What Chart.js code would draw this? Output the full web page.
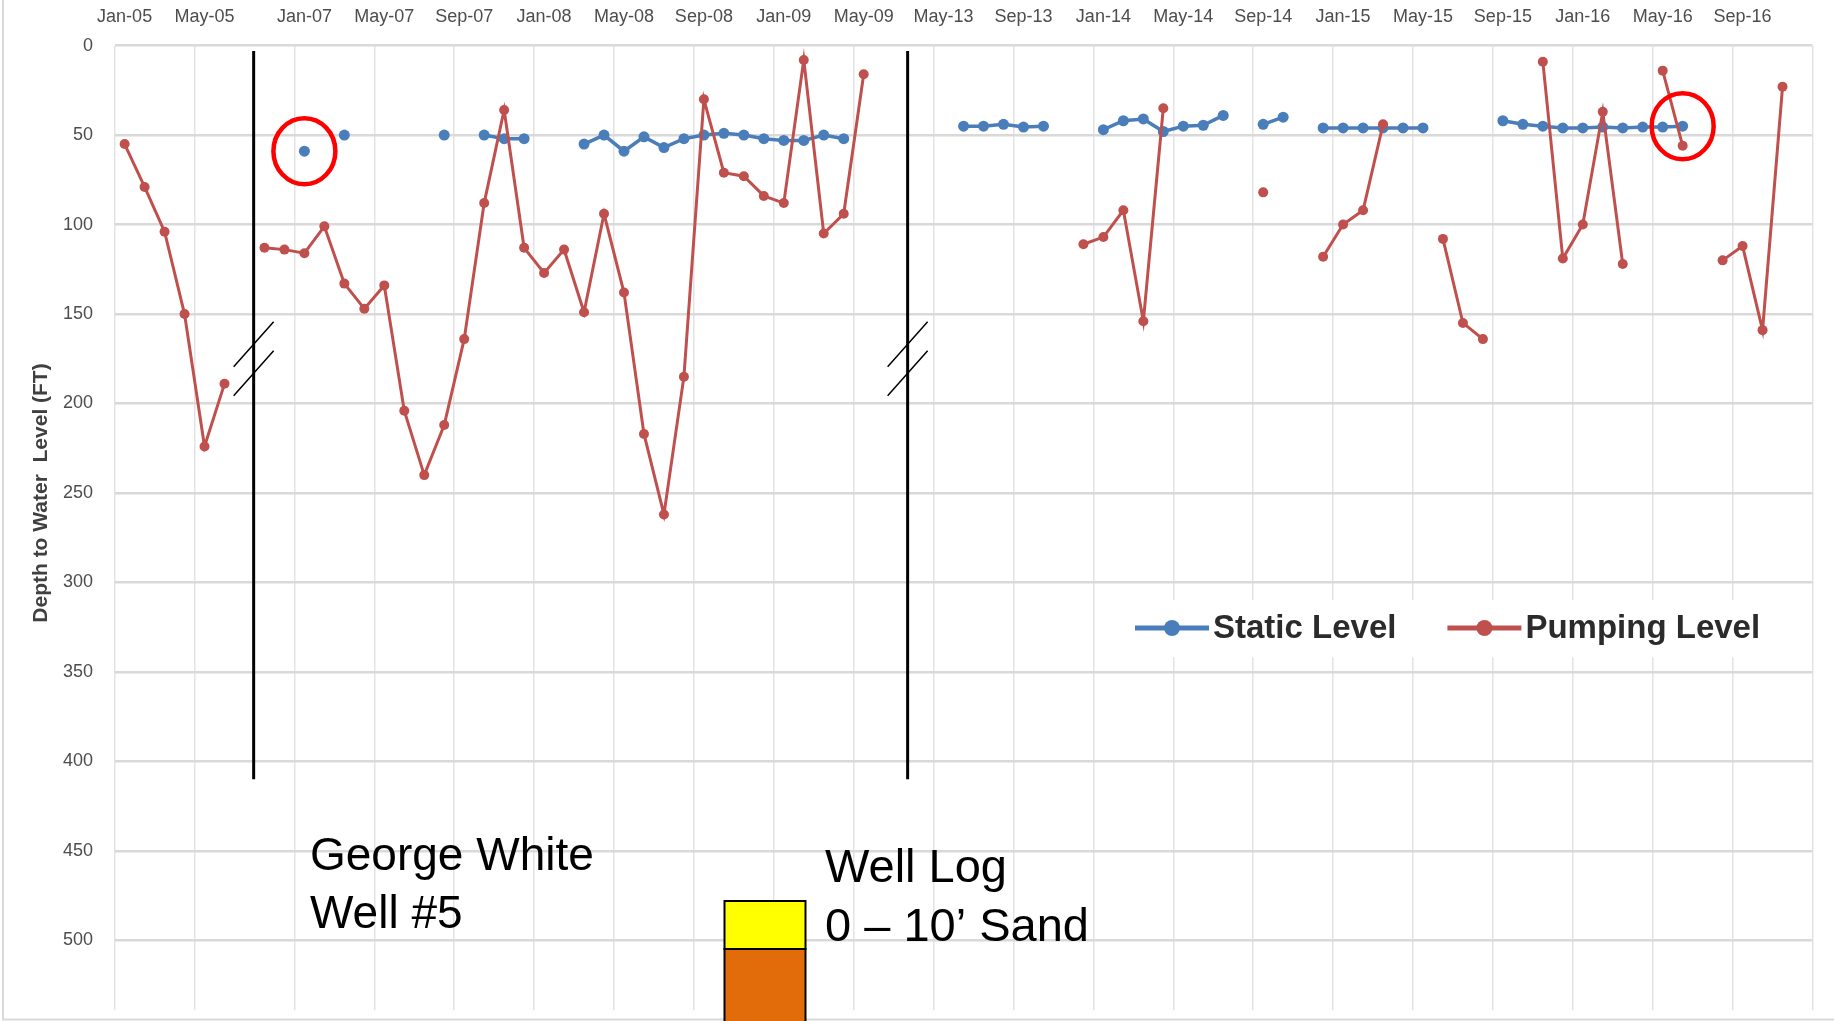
<!DOCTYPE html>
<html>
<head>
<meta charset="utf-8">
<title>George White Well #5</title>
<script src="https://cdn.jsdelivr.net/npm/chart.js@4.4.1/dist/chart.umd.min.js"></script>
<style>
  html, body { margin: 0; padding: 0; background: #fff; }
  canvas { display: block; }
</style>
</head>
<body>
<canvas id="myChart" width="1834" height="1021"></canvas>
<script>
// one category per month, '' = cut in the time axis
var months = [
  'Jan-05','Feb-05','Mar-05','Apr-05','May-05','Jun-05','',
  'Nov-06','Dec-06',
  'Jan-07','Feb-07','Mar-07','Apr-07','May-07','Jun-07','Jul-07','Aug-07','Sep-07','Oct-07','Nov-07','Dec-07',
  'Jan-08','Feb-08','Mar-08','Apr-08','May-08','Jun-08','Jul-08','Aug-08','Sep-08','Oct-08','Nov-08','Dec-08',
  'Jan-09','Feb-09','Mar-09','Apr-09','May-09','Jun-09','',
  'Apr-13','May-13','Jun-13','Jul-13','Aug-13','Sep-13','Oct-13','Nov-13','Dec-13',
  'Jan-14','Feb-14','Mar-14','Apr-14','May-14','Jun-14','Jul-14','Aug-14','Sep-14','Oct-14','Nov-14','Dec-14',
  'Jan-15','Feb-15','Mar-15','Apr-15','May-15','Jun-15','Jul-15','Aug-15','Sep-15','Oct-15','Nov-15','Dec-15',
  'Jan-16','Feb-16','Mar-16','Apr-16','May-16','Jun-16','Jul-16','Aug-16','Sep-16','Oct-16','Nov-16','Dec-16'
];

var shownTicks = ['Jan-05','May-05','Jan-07','May-07','Sep-07','Jan-08','May-08','Sep-08','Jan-09','May-09',
  'May-13','Sep-13','Jan-14','May-14','Sep-14','Jan-15','May-15','Sep-15','Jan-16','May-16','Sep-16'];

var seriesNames = ['Static Level', 'Pumping Level'];
var yTitle = 'Depth to Water  Level (FT)';

var staticLevel = [
  null, null, null, null, null, null, null,
  null, null,
  59, null, 50, null, null, null, null, 50, null, 50, 52, 52,
  null, null, 55, 50, 59, 51, 57, 52, 50, 49, 50, 52,
  53, 53, 50, 52, null, null, null,
  null, null, 45, 45, 44, 45.5, 45, null, null,
  47, 42, 41, 48, 45, 44.5, 39, null, 44, 40, null, 46,
  46, 46, 46, 46, 46, null, null, null, 42, 44, 45, 46,
  46, 45.5, 46, 45.5, 45.5, 45, null, null, null, null, null, null
];

var pumpingLevel = [
  55, 79, 104, 150, 224, 189, null,
  113, 114,
  116, 101, 133, 147, 134, 204, 240, 212, 164, 88, 36, 113,
  127, 114, 149, 94, 138, 217, 262, 185, 30, 71, 73, 84,
  88, 8, 105, 94, 16, null, null,
  null, null, null, null, null, null, null, null, 111,
  107, 92, 154, 35, null, null, null, null, 82, null, null, 118,
  100, 92, 44, null, null, 108, 155, 164, null, null, 9, 119,
  100, 37, 122, null, 14, 56, null, 120, 112, 159, 23, null
];

// static readings that are circled in red
var circled = ['Jan-07', 'Jun-16'];

var wellName = ['George White', 'Well #5'];
var wellLog = ['Well Log', '0 \u2013 10\u2019 Sand'];

var blue = '#4a7ebb';
var red = '#c0504d';
var gridCol = '#e3e3e3';
var breakShift = [0.46, 0.2]; // where the cut bar sits inside each gap slot

Chart.defaults.font.family = "'Liberation Sans', Arial, sans-serif";

var overlay = {
  id: 'overlay',
  beforeDraw: function (chart) {
    var c = chart.ctx;
    c.save();
    c.strokeStyle = '#d9d9d9';
    c.lineWidth = 2;
    c.beginPath();
    c.moveTo(3, 0);
    c.lineTo(3, chart.height - 1.5);
    c.lineTo(chart.width, chart.height - 1.5);
    c.stroke();
    c.restore();
  },
  afterDatasetsDraw: function (chart) {
    var c = chart.ctx;
    var x = chart.scales.x, y = chart.scales.y;
    var w = x.getPixelForValue(1) - x.getPixelForValue(0);
    c.save();

    // y axis title, centred on the 0-500 range
    c.save();
    c.translate(41.5, y.getPixelForValue(250));
    c.rotate(-Math.PI / 2);
    c.font = "bold 21px 'Liberation Sans', Arial, sans-serif";
    c.fillStyle = '#404040';
    c.textAlign = 'center';
    c.textBaseline = 'middle';
    c.fillText(yTitle, 0, 0);
    c.restore();

    // axis breaks: black bar plus "//"
    var k = 0;
    months.forEach(function (m, i) {
      if (m !== '') return;
      var bx = x.getPixelForValue(i) + breakShift[k++] * w;
      c.strokeStyle = '#000';
      c.lineWidth = 3;
      c.beginPath();
      c.moveTo(bx, y.getPixelForValue(3));
      c.lineTo(bx, y.getPixelForValue(410));
      c.stroke();
      var my = y.getPixelForValue(175);
      c.lineWidth = 1.5;
      c.beginPath();
      c.moveTo(bx - 20, my + 8); c.lineTo(bx + 20, my - 37);
      c.moveTo(bx - 20, my + 37); c.lineTo(bx + 20, my - 8);
      c.stroke();
    });

    // red circles
    c.strokeStyle = '#ff0000';
    c.lineWidth = 4.5;
    circled.forEach(function (m) {
      var i = months.indexOf(m);
      c.beginPath();
      c.ellipse(x.getPixelForValue(i), y.getPixelForValue(staticLevel[i]), 31, 33, 0, 0, Math.PI * 2);
      c.stroke();
    });

    // legend
    c.fillStyle = '#fff';
    c.fillRect(1123, 600, 661, 57);
    var lx = 1135, ly = 628;
    c.font = "bold 33px 'Liberation Sans', Arial, sans-serif";
    c.textBaseline = 'middle';
    chart.data.datasets.forEach(function (ds) {
      c.strokeStyle = ds.borderColor;
      c.lineWidth = 5;
      c.beginPath();
      c.moveTo(lx, ly); c.lineTo(lx + 74, ly);
      c.stroke();
      c.fillStyle = ds.borderColor;
      c.beginPath();
      c.arc(lx + 37, ly, 8, 0, Math.PI * 2);
      c.fill();
      c.fillStyle = '#2b2b2b';
      c.fillText(ds.label, lx + 78, ly + 1);
      lx += 78 + c.measureText(ds.label).width + 51;
    });

    // slide text
    c.fillStyle = '#000';
    c.textBaseline = 'alphabetic';
    c.font = "46px 'Liberation Sans', Arial, sans-serif";
    c.fillText(wellName[0], 310, 870);
    c.fillText(wellName[1], 310, 928);
    c.font = "47px 'Liberation Sans', Arial, sans-serif";
    c.fillText(wellLog[0], 825, 882);
    c.fillText(wellLog[1], 825, 941);

    // well log column
    c.lineWidth = 2;
    c.strokeStyle = '#000';
    c.fillStyle = '#ffff00';
    c.fillRect(724.5, 901, 81, 48);
    c.strokeRect(724.5, 901, 81, 48);
    c.fillStyle = '#e36c0a';
    c.fillRect(724.5, 949, 81, 80);
    c.strokeRect(724.5, 949, 81, 80);

    c.restore();
  }
};

var config = {
  type: 'line',
  data: {
    labels: months,
    datasets: [{
      label: seriesNames[0],
      data: staticLevel,
      borderColor: blue,
      backgroundColor: blue,
      borderWidth: 3.5,
      pointRadius: 5.5,
      pointBorderWidth: 0,
      tension: 0,
      order: 1
    }, {
      label: seriesNames[1],
      data: pumpingLevel,
      borderColor: red,
      backgroundColor: red,
      borderWidth: 3,
      pointRadius: 5,
      pointBorderWidth: 0,
      tension: 0,
      order: 0
    }]
  },
  options: {
    responsive: false,
    animation: false,
    devicePixelRatio: 1,
    layout: { padding: { left: 63, top: 6, right: 21.5, bottom: 2 } },
    plugins: {
      legend: { display: false },
      tooltip: { enabled: false }
    },
    scales: {
      x: {
        position: 'top',
        offset: true,
        border: { display: false },
        grid: {
          offset: true,
          lineWidth: 1.5,
          tickLength: 18,
          tickColor: 'rgba(0,0,0,0)',
          color: function (ctx) {
            if (ctx.index === undefined) return gridCol;
            return shownTicks.indexOf(months[ctx.index]) >= 0 ? gridCol : 'rgba(0,0,0,0)';
          }
        },
        ticks: {
          autoSkip: false,
          maxRotation: 0,
          minRotation: 0,
          padding: 0,
          color: '#4d4d4d',
          font: { size: 18 },
          callback: function (value, index) {
            return shownTicks.indexOf(months[index]) >= 0 ? months[index] : '';
          }
        }
      },
      y: {
        reverse: true,
        min: 0,
        max: 539,
        border: { display: false },
        grid: {
          color: '#d9d9d9',
          lineWidth: 2.5,
          tickLength: 21.6,
          tickColor: 'rgba(0,0,0,0)'
        },
        ticks: {
          stepSize: 50,
          includeBounds: false,
          padding: 0,
          color: '#4d4d4d',
          font: { size: 18 }
        }
      }
    }
  },
  plugins: [overlay]
};

var ctx = document.getElementById('myChart');
var myChart = new Chart(ctx, config);
</script>
</body>
</html>
